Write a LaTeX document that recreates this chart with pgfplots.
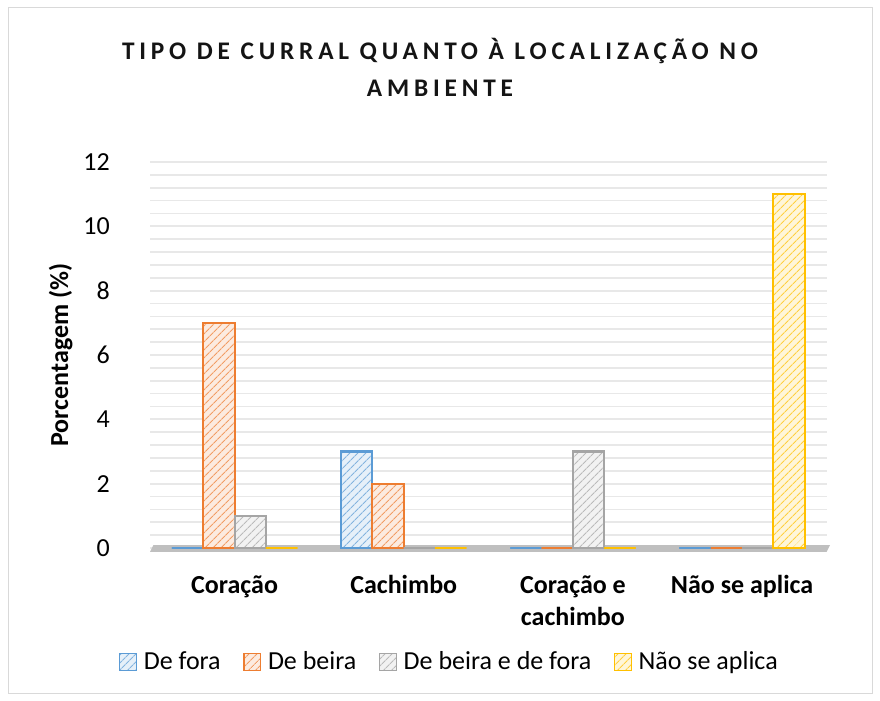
\documentclass[border=0pt]{standalone}
\usepackage{fontspec}
\setmainfont{Carlito}
\usepackage{pgfplots}
\usepackage{pgfplotstable}
\pgfplotsset{compat=1.18}
\usetikzlibrary{patterns.meta}

\definecolor{cblue}{HTML}{5B9BD5}
\definecolor{corange}{HTML}{ED7D31}
\definecolor{cgray}{HTML}{A5A5A5}
\definecolor{cgold}{HTML}{FFC000}
\definecolor{gridc}{HTML}{E8E8E8}
\definecolor{floorc}{HTML}{BFBFBF}
\definecolor{framec}{HTML}{D9D9D9}

\pgfplotsset{
  hatchbar/.style={draw=#1, line width=1.6pt, fill=#1!15,
    postaction={pattern={Lines[angle=45,distance=4pt,line width=0.9pt]}, pattern color=#1!75}},
  sqlegend/.style={legend image code/.code={
    \draw[##1, line width=1pt] (0pt,-6.5pt) rectangle (12.5pt,6.5pt);}},
}

% percentages per category (0..3) and location type
\pgfplotstableread{
x fora beira ambos nao
0 0 7 1 0
1 3 2 0 0
2 0 0 3 0
3 0 0 0 11
}\datatab

\begin{document}
\begin{tikzpicture}
\path (0,0) rectangle (660pt,525pt);
\draw[framec, line width=0.75pt] (6pt,5.25pt) rectangle (654pt,519pt);

\node[align=center, text=black!92,
  font=\fontsize{19}{27.5}\selectfont\bfseries\addfontfeature{LetterSpace=19}]
  at (330pt,474.5pt) {TIPO DE CURRAL QUANTO À LOCALIZAÇÃO NO\\AMBIENTE};

\begin{axis}[
  at={(112.5pt,114pt)}, anchor=south west,
  scale only axis, width=507.5pt, height=289.5pt,
  ybar=0pt, bar width=23.5pt,
  xmin=-0.5, xmax=3.5, ymin=0, ymax=12,
  xtick={0,1,2,3},
  xticklabels={Coração, Cachimbo, {Coração e\\cachimbo}, Não se aplica},
  ytick={0,2,...,12}, minor y tick num=4,
  ymajorgrids, yminorgrids,
  major grid style={gridc, line width=1.3pt},
  minor grid style={gridc, line width=1.3pt},
  axis line style={draw=none},
  major tick length=0pt, minor tick length=0pt,
  clip=false,
  /pgf/number format/assume math mode=true,
  yticklabel style={font=\fontsize{19.5}{23}\selectfont, anchor=east, inner sep=0pt, xshift=-30pt},
  xticklabel style={font=\fontsize{19.5}{24}\selectfont\bfseries, align=center, anchor=north, yshift=-17pt},
  ylabel={Porcentagem (\%)},
  ylabel style={font=\fontsize{19.5}{23}\selectfont\bfseries, at={(axis description cs:-0.132,0.5)}, anchor=center},
  legend columns=4,
  legend style={at={(axis description cs:0.443,-0.295)}, anchor=center, draw=none, fill=none,
    font=\fontsize{19.5}{23}\selectfont,
    /tikz/every odd column/.append style={column sep=3pt},
    /tikz/every even column/.append style={column sep=15pt}},
]
\fill[floorc] (axis cs:-0.5,-0.12) -- (axis cs:3.5,-0.12) -- (axis cs:3.52,0.09) -- (axis cs:-0.48,0.09) -- cycle;
\addplot[hatchbar=cblue, sqlegend] table[x=x, y=fora] {\datatab};
\addplot[hatchbar=corange, sqlegend] table[x=x, y=beira] {\datatab};
\addplot[hatchbar=cgray, sqlegend] table[x=x, y=ambos] {\datatab};
\addplot[hatchbar=cgold, sqlegend] table[x=x, y=nao] {\datatab};
\legend{De fora, De beira, De beira e de fora, Não se aplica}
\end{axis}
\end{tikzpicture}
\end{document}
